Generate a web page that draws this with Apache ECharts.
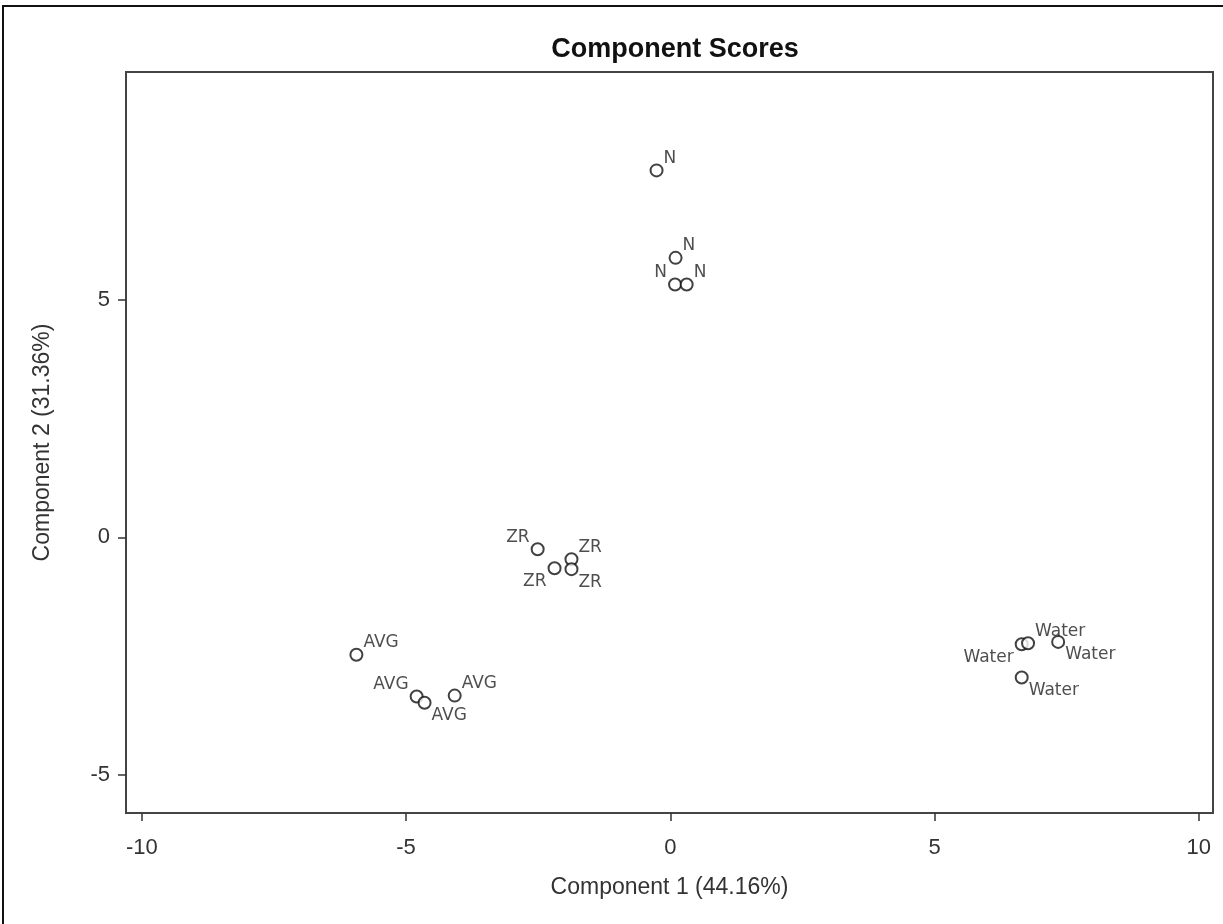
<!DOCTYPE html>
<html>
<head>
<meta charset="utf-8">
<script src="https://cdn.jsdelivr.net/npm/echarts@6/dist/echarts.min.js"></script>
<style>
html,body{margin:0;padding:0;background:#fff;}
#chart{width:1223px;height:924px;}
</style>
</head>
<body>
<div id="chart"></div>
<script>
// Data
var groupLabels = ['N','N','N','N','ZR','ZR','ZR','ZR','AVG','AVG','AVG','AVG','Water','Water','Water','Water'];
var comp1 = [-0.26, 0.10, 0.09, 0.31, -2.51, -1.87, -2.19, -1.87, -5.94, -4.80, -4.65, -4.08, 6.65, 6.77, 7.34, 6.65];
var comp2 = [7.72, 5.88, 5.32, 5.32, -0.25, -0.46, -0.65, -0.67, -2.47, -3.35, -3.48, -3.33, -2.25, -2.23, -2.20, -2.95];
var labelCorner = ['ur','ur','ul','ur','ul','ur','ll','lr','ur','ul','lr','ur','ll','ur','lr','lr'];
var xTicks = [-10, -5, 0, 5, 10];
var yTicks = [-5, 0, 5];
var titleText = 'Component Scores';
var xName = 'Component 1 (44.16%)';
var yName = 'Component 2 (31.36%)';

var cornerStyle = {
  ur: {align: 'left', offset: [7, -12]},
  ul: {align: 'right', offset: [-8, -12]},
  lr: {align: 'left', offset: [7, 13]},
  ll: {align: 'right', offset: [-8, 13]}
};

var points = comp1.map(function (x, i) {
  var c = cornerStyle[labelCorner[i]];
  return {
    value: [x, comp2[i]],
    name: groupLabels[i],
    label: {
      show: true,
      formatter: groupLabels[i],
      position: 'inside',
      align: c.align,
      verticalAlign: 'middle',
      offset: c.offset
    }
  };
});

var chart = echarts.init(document.getElementById('chart'), null, {renderer: 'canvas'});
var axisFont = 'Liberation Sans, Arial, sans-serif';
chart.setOption({
  animation: false,
  backgroundColor: '#ffffff',
  title: {
    text: titleText,
    left: 670,
    top: 31,
    textAlign: 'center',
    textStyle: {fontFamily: axisFont, fontWeight: 'bold', fontSize: 27, color: '#111'}
  },
  graphic: [{
    type: 'rect',
    shape: {x: 3, y: 6, width: 1400, height: 1100},
    style: {fill: 'none', stroke: '#111', lineWidth: 2},
    silent: true
  }],
  grid: {
    left: 126, right: 10, top: 72, bottom: 111,
    show: true, borderColor: '#444', borderWidth: 2,
    outerBoundsMode: 'none'
  },
  xAxis: {
    type: 'value',
    min: -10.3, max: 10.27,
    name: xName,
    nameLocation: 'middle',
    nameGap: 63,
    nameTextStyle: {fontFamily: axisFont, fontSize: 23, color: '#333'},
    axisLine: {show: true, onZero: false, lineStyle: {color: '#444', width: 2}},
    axisTick: {show: true, customValues: xTicks, length: 8, lineStyle: {color: '#333', width: 1.5}},
    axisLabel: {customValues: xTicks, margin: 24, fontFamily: axisFont, fontSize: 22, color: '#333'},
    splitLine: {show: false}
  },
  yAxis: {
    type: 'value',
    min: -5.8, max: 9.79,
    name: yName,
    nameLocation: 'middle',
    nameGap: 72,
    nameTextStyle: {fontFamily: axisFont, fontSize: 23, color: '#333'},
    axisLine: {show: true, onZero: false, lineStyle: {color: '#444', width: 2}},
    axisTick: {show: true, customValues: yTicks, length: 8, lineStyle: {color: '#333', width: 1.5}},
    axisLabel: {customValues: yTicks, margin: 16, fontFamily: axisFont, fontSize: 22, color: '#333'},
    splitLine: {show: false}
  },
  series: [{
    type: 'scatter',
    symbol: 'emptyCircle',
    symbolSize: 12,
    itemStyle: {color: '#111', borderColor: '#111', borderWidth: 1.6},
    label: {fontFamily: 'DejaVu Sans, sans-serif', fontSize: 17, color: '#222'},
    data: points
  }]
});
</script>
</body>
</html>
